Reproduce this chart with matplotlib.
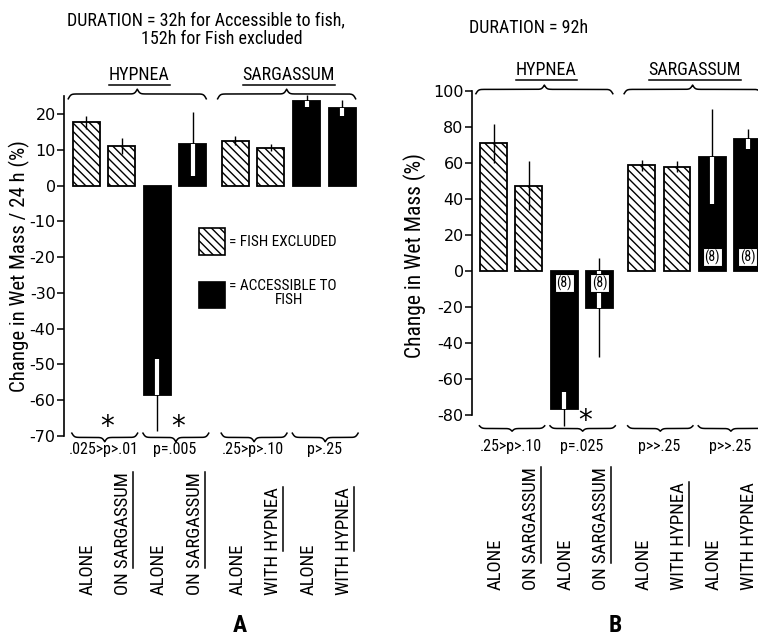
import numpy as np
import matplotlib
matplotlib.use('Agg')
import matplotlib.pyplot as plt
import matplotlib.transforms as mtransforms
from matplotlib.lines import Line2D
from matplotlib.patches import Rectangle

plt.rcParams['font.family'] = ['Roboto Condensed', 'DejaVu Sans']
plt.rcParams['axes.unicode_minus'] = False
plt.rcParams['hatch.linewidth'] = 1.0
plt.rcParams['hatch.color'] = 'black'

W, H = 758, 644

# ---- data ----
treatments = ['ALONE', 'ON SARGASSUM', 'ALONE', 'ON SARGASSUM',
              'ALONE', 'WITH HYPNEA', 'ALONE', 'WITH HYPNEA']
underlined = [None, 'SARGASSUM', None, 'SARGASSUM', None, 'HYPNEA', None, 'HYPNEA']
fish_access = [False, False, True, True, False, False, True, True]
species = ['HYPNEA', 'SARGASSUM']

# panel A: change in wet mass per 24 h (%)
mass_a = [17.7, 11.2, -58.6, 11.7, 12.6, 10.6, 23.7, 21.7]
err_a = [1.8, 2.2, 10.0, 9.0, 1.3, 1.0, 1.8, 2.2]
pvals_a = ['.025>p>.01', 'p=.005', '.25>p>.10', 'p>.25']
signif_a = [True, True, False, False]

# panel B: change in wet mass (%) over 92 h
mass_b = [70.9, 47.5, -76.5, -20.5, 58.7, 57.9, 63.5, 73.2]
err_b = [11.0, 13.5, 9.5, 27.5, 3.0, 3.0, 26.5, 5.5]
pvals_b = ['.25>p>.10', 'p=.025', 'p>>.25', 'p>>.25']
signif_b = [False, True, False, False]
n_b = ['(8)', '(8)', '(8)', '(8)']

pos = np.array([0, 1, 2, 3, 4.2, 5.2, 6.2, 7.2])
bw = 0.76
HATCH = '\\\\\\\\'

fig = plt.figure(figsize=(W / 100, H / 100), dpi=100)


def px_axes(x0, y0, x1, y1):
    return fig.add_axes([x0 / W, 1 - y1 / H, (x1 - x0) / W, (y1 - y0) / H])


def ftext(x, y, s, **kw):
    return fig.text(x / W, 1 - y / H, s, **kw)


def brace(ax, x0, x1, y, h):
    k = 28 * (x1 - x0) / 2
    t = np.linspace(0, 1, 151)
    half = 1 / (1 + np.exp(-k * t)) + 1 / (1 + np.exp(-k * (t - 1))) - 0.5
    ys = np.concatenate([half, half[-2::-1]])
    xs = np.linspace(x0, x1, len(ys))
    ax.plot(xs, y + h * ys, color='black', lw=1.1, clip_on=False)


def draw_bars(ax, mass, err):
    mass = np.asarray(mass)
    err = np.asarray(err)
    acc = np.array(fish_access)
    ax.bar(pos[~acc], mass[~acc], width=bw, facecolor='white', edgecolor='black',
           hatch=HATCH, lw=1.3, zorder=2)
    ax.bar(pos[acc], mass[acc], width=bw, color='black', edgecolor='black', lw=1.3, zorder=2)
    for x, m, e, a in zip(pos, mass, err, acc):
        ax.plot([x, x], [m - e, m + e], color='black', lw=1.0, zorder=3,
                solid_capstyle='butt', clip_on=False)
        if a:
            lo, hi = sorted((0, m))
            s0, s1 = max(m - e, lo), min(m + e, hi)
            if s1 > s0:
                ax.plot([x, x], [s0, s1], color='white', lw=3.0, zorder=4,
                        solid_capstyle='butt')


def style_axis(ax, ylim, ticks, xlim):
    ax.set_xlim(*xlim)
    ax.set_ylim(*ylim)
    for s in ['top', 'right', 'bottom']:
        ax.spines[s].set_visible(False)
    ax.spines['left'].set_linewidth(1.2)
    ax.set_xticks([])
    ax.set_yticks(ticks)
    ax.set_yticklabels([str(t) for t in ticks], family='DejaVu Sans')
    ax.tick_params(axis='y', direction='out', length=5, width=1.1, labelsize=11.5, pad=1)
    ax.patch.set_visible(False)


under_jobs = []


def group_labels(ax, y_lab, y_brace, h_brace, y_pair, h_pair, y_p, pvals, signif, y_star):
    groups = [pos[:4], pos[4:]]
    for name, g in zip(species, groups):
        brace(ax, g[0] - 0.5, g[-1] + 0.38, y_brace, h_brace)
        t = ax.text((g[0] + g[-1]) / 2, y_lab, name, ha='center', va='center',
                    fontsize=13, clip_on=False)
        under_jobs.append((t, name, False))
    for i in range(4):
        p0, p1 = pos[2 * i], pos[2 * i + 1]
        brace(ax, p0 - 0.4, p1 + 0.45, y_pair, h_pair)
        ax.text((p0 + p1) / 2, y_p, pvals[i], ha='center', va='center', fontsize=11.5,
                clip_on=False)
        if signif[i]:
            ax.text((p0 + p1) / 2 + 0.1, y_star, '*', ha='center', va='center',
                    fontsize=20, family='DejaVu Sans', clip_on=False)


def treatment_labels(ax, y_bottom_px):
    tr = mtransforms.blended_transform_factory(ax.transData, fig.transFigure)
    for x, lab, u in zip(pos, treatments, underlined):
        t = ax.text(x + 0.05, 1 - y_bottom_px / H, lab, transform=tr, rotation=90,
                    ha='center', va='bottom', fontsize=13.5, clip_on=False)
        if u:
            under_jobs.append((t, u, True))


# ---------------- panel A ----------------
ax_a = px_axes(64, 96.3, 367, 436)
style_axis(ax_a, (-70, 25), list(range(20, -71, -10)), (-0.62, 7.9))
draw_bars(ax_a, mass_a, err_a)
group_labels(ax_a, y_lab=31.0, y_brace=24.3, h_brace=2.7, y_pair=-69.2, h_pair=-2.4,
             y_p=-73.8, pvals=pvals_a, signif=signif_a, y_star=-67.6)
treatment_labels(ax_a, 595)

# legend inside panel A
ax_a.add_patch(Rectangle((3.17, -19.4), 0.73, 7.6, facecolor='white', edgecolor='black',
                         hatch=HATCH, lw=1.2, zorder=2))
ax_a.add_patch(Rectangle((3.17, -34.2), 0.73, 7.3, facecolor='black', edgecolor='black',
                         lw=1.2, zorder=2))
ax_a.text(4.03, -15.7, '= FISH EXCLUDED', ha='left', va='center', fontsize=11)
ax_a.text(4.03, -28.0, '= ACCESSIBLE TO', ha='left', va='center', fontsize=11)
ax_a.text(5.7, -32.0, 'FISH', ha='center', va='center', fontsize=11)

ftext(206, 20, 'DURATION = 32h for Accessible to fish,', ha='center', va='center', fontsize=13)
ftext(222, 39, '152h for Fish excluded', ha='center', va='center', fontsize=13)
ftext(19, 266, 'Change in Wet Mass / 24 h (%)', rotation=90, ha='center', va='center',
      fontsize=15)
ftext(240, 626, 'A', ha='center', va='center', fontsize=17, weight='bold')

# ---------------- panel B ----------------
ax_b = px_axes(472, 91, 790, 415)
style_axis(ax_b, (-80, 100), list(range(100, -81, -20)), (-0.61, 8.4))
draw_bars(ax_b, mass_b, err_b)
group_labels(ax_b, y_lab=111.5, y_brace=98.5, h_brace=4.8, y_pair=-86.0, h_pair=-3.0,
             y_p=-97.5, pvals=pvals_b, signif=signif_b, y_star=-83.5)
treatment_labels(ax_b, 590)

acc_pos = pos[np.array(fish_access)]
for x, lab, y in zip(acc_pos, n_b, [-6.7, -6.7, 7.8, 7.8]):
    ax_b.text(x, y, lab, ha='center', va='center', fontsize=10, zorder=6,
              bbox=dict(boxstyle='square,pad=0.12', facecolor='white', edgecolor='black', lw=0.8))

ftext(529, 28, 'DURATION = 92h', ha='center', va='center', fontsize=13)
ftext(415, 255, 'Change in Wet Mass (%)', rotation=90, ha='center', va='center',
      fontsize=15.5)
ftext(615, 626, 'B', ha='center', va='center', fontsize=17, weight='bold')

# underline the genus names
fig.canvas.draw()
renderer = fig.canvas.get_renderer()
inv = fig.transFigure.inverted()
for t, word, rotated in under_jobs:
    bb = t.get_window_extent(renderer)
    fp = t.get_fontproperties()
    tw = fig.text(0, 0, word, fontproperties=fp)
    tf = fig.text(0, 0, t.get_text(), fontproperties=fp)
    frac = tw.get_window_extent(renderer).width / tf.get_window_extent(renderer).width
    tw.remove()
    tf.remove()
    if rotated:
        pts = [(bb.x1 + 1, bb.y1 - bb.height * frac), (bb.x1 + 1, bb.y1)]
    else:
        pts = [(bb.x0, bb.y0 - 1), (bb.x1, bb.y0 - 1)]
    (fx0, fy0), (fx1, fy1) = inv.transform(pts)
    fig.add_artist(Line2D([fx0, fx1], [fy0, fy1], color='black', lw=1.1,
                          transform=fig.transFigure))

fig.savefig('out.png', dpi=100)
